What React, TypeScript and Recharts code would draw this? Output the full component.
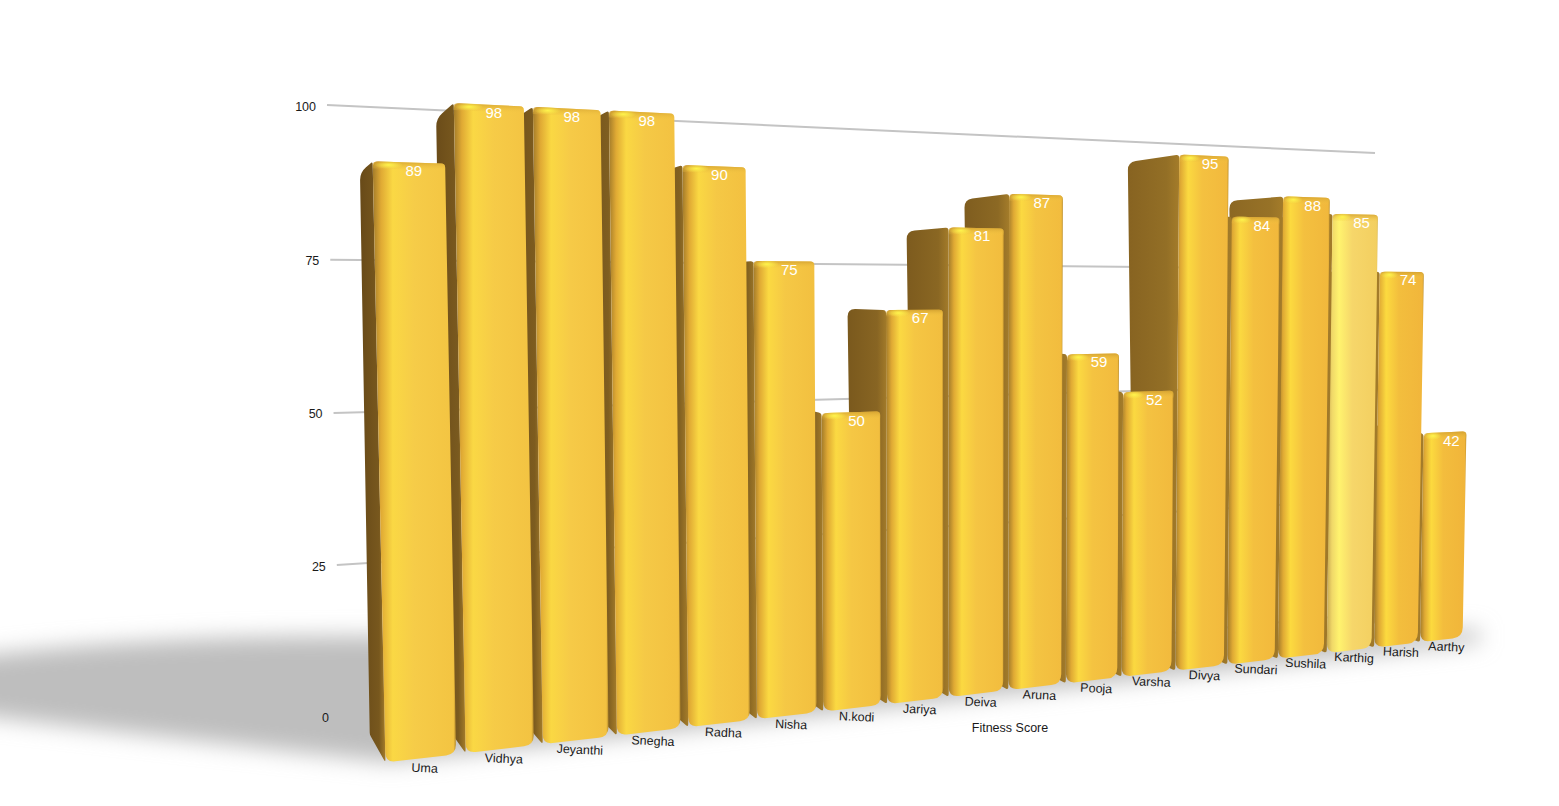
import React from "react";
import { BarChart, Bar, XAxis, YAxis, CartesianGrid, LabelList, Customized } from "recharts";

const names = ["Uma","Vidhya","Jeyanthi","Snegha","Radha","Nisha","N.kodi","Jariya","Deiva","Aruna","Pooja","Varsha","Divya","Sundari","Sushila","Karthig","Harish","Aarthy"];
const scores = [89,98,98,98,90,75,50,67,81,87,59,52,95,84,88,85,74,42];
const yTicks = [0,25,50,75,100];
const highlighted = "Karthig";
// far bars first so that nearer bars paint over them; the reversed axis keeps Uma on the left
const rows = names.map((name, i) => ({ name, score: scores[i] })).reverse();

const W = 1559, H = 806;
const PL = 50, PT = 30, PW = 1440, PH = 720, PB = PT + PH;
type Pt = [number, number];

function homography(p00: Pt, p10: Pt, p11: Pt, p01: Pt) {
  const [x0,y0]=p00,[x1,y1]=p10,[x2,y2]=p11,[x3,y3]=p01;
  const dx1=x1-x2,dx2=x3-x2,sx=x0-x1+x2-x3,dy1=y1-y2,dy2=y3-y2,sy=y0-y1+y2-y3;
  const den=dx1*dy2-dx2*dy1;
  const g=(sx*dy2-dx2*sy)/den,h=(dx1*sy-sx*dy1)/den;
  const a=x1-x0+g*x1,b=x3-x0+h*x3,c=x0,d=y1-y0+g*y1,e=y3-y0+h*y3,f=y0;
  return (u:number,t:number):Pt=>{const w=g*u+h*t+1;return [(a*u+b*t+c)/w,(d*u+e*t+f)/w];};
}
const front = homography([380.5,763],[1465.5,637],[1474.5,142],[366,85]);
const back = homography([365,735],[1416,620],[1411,149],[354,102.6]);
const wall = homography([340,716],[1372,613],[1375,153],[327,105]);
const U=(x:number)=>(x-PL)/PW;
const T=(y:number)=>(PB-y)/PH;

const hex=(c:number[])=>"#"+c.map(v=>Math.round(v).toString(16).padStart(2,"0")).join("");
const mix=(a:number[],b:number[],k:number)=>hex(a.map((v,i)=>v+(b[i]-v)*k));
const lerpPt=(a:Pt,b:Pt,d:number):Pt=>{const L=Math.hypot(b[0]-a[0],b[1]-a[1])||1;const k=Math.min(d/L,.5);return [a[0]+(b[0]-a[0])*k,a[1]+(b[1]-a[1])*k];};
const f=(p:Pt)=>`${p[0].toFixed(1)} ${p[1].toFixed(1)}`;

function roundedPath(pts:Pt[],radii:number[]){
  let s="";
  pts.forEach((p,i)=>{
    const prev=pts[(i+pts.length-1)%pts.length],next=pts[(i+1)%pts.length],r=radii[i];
    const a=lerpPt(p,prev,r),b=lerpPt(p,next,r);
    s+=(i===0?"M":"L")+f(a)+"Q"+f(p)+" "+f(b);
  });
  return s+"Z";
}

function Bar3D(props:any){
  const {x,y,width,height,index,payload}=props;
  const uR=U(x+width),t=T(y),t0=T(y+height);
  const uB=U(x);
  // the visible gap between neighbours closes towards the far end of the row
  const uL=U(x-width*0.09*uB);
  const k=1-uL; // 1 near the left, 0 at the far right
  const hi=payload.name===highlighted;
  const TL=front(uL,t),TR=front(uR,t),BR=front(uR,t0),BL=front(uL,t0);
  const bT=back(uB,t),bB=back(uB,t0);
  const id=`b${index}`;
  const mid=mix([243,188,60],[246,204,72],k);
  const bright=hi?"#fff36e":mix([252,218,62],[250,216,68],k);
  const body=hi?"#f6d66a":mid;
  const end=hi?"#f3cf60":mix([241,180,58],[243,196,66],k);
  const sideDark=mix([150,112,38],[104,74,24],k);
  const sideMid=mix([160,122,42],[120,88,30],k);
  const spotX=TL[0]+(TR[0]-TL[0])*0.22, spotY=TL[1]+(TR[1]-TL[1])*0.22+3;
  return (
    <g>
      <defs>
        <linearGradient id={id+"f"} x1="0" y1="0" x2="1" y2="0">
          <stop offset="0" stopColor={hi?"#c8a850":"#a47c2a"}/>
          <stop offset="0.1" stopColor={hi?"#f0d868":"#e0aa34"}/>
          <stop offset="0.24" stopColor={bright}/>
          <stop offset="0.5" stopColor={body}/>
          <stop offset="0.97" stopColor={end}/>
          <stop offset="1" stopColor={hi?"#d8b650":"#b88c2c"}/>
        </linearGradient>
        <linearGradient id={id+"s"} x1="0" y1="0" x2="1" y2="0">
          <stop offset="0" stopColor={sideDark}/>
          <stop offset="0.75" stopColor={sideMid}/>
          <stop offset="1" stopColor="#a47c2a"/>
        </linearGradient>
        <linearGradient id={id+"v"} x1="0" y1="0" x2="0" y2="1">
          <stop offset="0" stopColor="#d2a030" stopOpacity="0.9"/>
          <stop offset="1" stopColor="#f5c945" stopOpacity="0"/>
        </linearGradient>
        <radialGradient id={id+"h"}>
          <stop offset="0" stopColor="#fff44c"/>
          <stop offset="1" stopColor="#fff44c" stopOpacity="0"/>
        </radialGradient>
      </defs>
      <path d={roundedPath([bT,TL,BL,bB],[8,3,3,2])} fill={`url(#${id}s)`}/>
      <path d={roundedPath([TL,TR,BR,BL],[6,4,10,10])} fill={`url(#${id}f)`}/>
      <path d={roundedPath([TL,TR,[TR[0],TR[1]+7],[TL[0],TL[1]+7]],[5,4,0,0])} fill={`url(#${id}v)`}/>
      <ellipse cx={spotX} cy={spotY} rx={(TR[0]-TL[0])*0.2} ry={4} fill={`url(#${id}h)`}/>
    </g>
  );
}

const GridLine=(p:any)=>{
  const a=wall(0,T(p.y1)),b=wall(1,T(p.y2));
  return <line key={p.key} x1={a[0]} y1={a[1]} x2={b[0]} y2={b[1]} stroke="#c4c4c4" strokeWidth={2}/>;
};
const YTick=(p:any)=>{
  const a=wall(0,T(p.y));
  return <text x={a[0]-11} y={a[1]+5.5} textAnchor="end" fontSize={12.5} fill="#1a1a1a" fontFamily="Liberation Sans">{p.payload.value}</text>;
};
const XTick=(p:any)=>{
  const q=front(U(p.x),-0.016);
  return <text transform={`translate(${q[0]+3} ${q[1]+3.5}) rotate(2.5)`} textAnchor="middle" fontSize={12.5} fill="#1a1a1a" fontFamily="Liberation Sans">{p.payload.value}</text>;
};
const ValueLabel=(p:any)=>{
  const u=U(p.x+p.width/2), t=T(p.y);
  const q=front(u,t);
  return <text x={q[0]+4.5} y={q[1]+13.5} textAnchor="middle" fontSize={15} fill="#ffffff" fontFamily="Liberation Sans">{p.value}</text>;
};
const AxisTitle=()=>(
  <text x={1010} y={732} textAnchor="middle" fontSize={12.5} fill="#1a1a1a" fontFamily="Liberation Sans">Fitness Score</text>
);
const GroundShadow=()=>(
  <g>
    <defs>
      <filter id="sh" x="-10%" y="-30%" width="120%" height="160%"><feGaussianBlur stdDeviation="11"/></filter>
    </defs>
    <path d="M-80 664 Q120 634 400 636 L1480 630 L1480 642 L390 762 Q120 733 -80 708 Z" fill="#bebebe" filter="url(#sh)"/>
  </g>
);

export default function App(){
  return (
    <div style={{position:"absolute",left:0,top:0,width:W,height:H,overflow:"hidden",background:"#fff"}}>
      <BarChart width={W} height={H} data={rows} margin={{top:PT,right:W-PL-PW,bottom:H-PB-40,left:0}} barCategoryGap="6%">
        <Customized component={GroundShadow}/>
        <CartesianGrid vertical={false} horizontal={GridLine}/>
        <XAxis dataKey="name" reversed interval={0} height={40} axisLine={false} tickLine={false} tick={XTick} label={<AxisTitle/>}/>
        <YAxis type="number" domain={[0,100]} ticks={yTicks} width={PL} axisLine={false} tickLine={false} tick={YTick}/>
        <Bar dataKey="score" isAnimationActive={false} shape={Bar3D}>
          <LabelList dataKey="score" content={ValueLabel}/>
        </Bar>
      </BarChart>
    </div>
  );
}
